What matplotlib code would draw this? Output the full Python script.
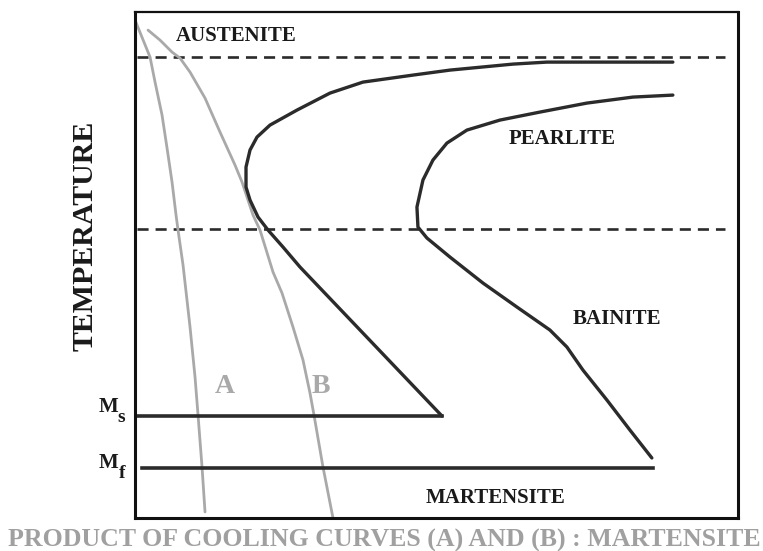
"""TTT diagram with two cooling curves (A and B) that both end in martensite."""

import matplotlib

matplotlib.use("Agg")
import matplotlib.pyplot as plt

# time / temperature in arbitrary diagram units
start_time = [538, 465, 412, 378, 315, 278, 228, 195, 162, 135, 122, 115, 111, 111,
              115, 123, 133, 148, 165, 307]
start_temp = [456, 456, 456, 454, 448, 443, 436, 425, 408, 393, 381, 368, 351, 331,
              318, 301, 288, 271, 251, 102]

finish_time = [538, 498, 452, 405, 365, 332, 312, 298, 288, 282, 283, 292, 315, 348,
               382, 415, 432, 448, 472, 495, 517]
finish_temp = [423, 421, 415, 406, 398, 388, 375, 358, 338, 311, 291, 280, 261, 235,
               211, 188, 171, 148, 118, 88, 60]

curve_a_time = [0, 15, 20, 27, 32, 37, 41, 43, 48, 55, 60, 63, 67, 70]
curve_a_temp = [498, 461, 436, 403, 370, 336, 303, 288, 253, 191, 141, 103, 51, 6]

curve_b_time = [13, 25, 37, 45, 55, 70, 85, 100, 107, 118, 125, 138, 147, 158, 168,
                175, 179, 188, 198]
curve_b_temp = [488, 478, 466, 460, 446, 420, 386, 353, 336, 303, 288, 246, 225, 191,
                158, 125, 103, 51, 0]

upper_limit = 461      # austenite / pearlite boundary (dashed)
nose_temp = 289        # pearlite / bainite boundary (dashed)
ms_temp, ms_end = 102, 307
mf_temp, mf_start, mf_end = 50, 7, 518

region_labels = ["AUSTENITE", "PEARLITE", "BAINITE", "MARTENSITE"]
region_pos = [(101, 482), (427, 379), (482, 199), (361, 20)]

DARK = "#2b2b2b"
GRAY = "#a9a9a9"
INK = "#1a1a1a"
SERIF = "Liberation Serif"

fig = plt.figure(figsize=(7.63, 5.51), dpi=100)
ax = fig.add_axes([0.177, 0.060, 0.790, 0.918])
ax.set_xlim(0, 603)
ax.set_ylim(0, 506)
ax.set_xticks([])
ax.set_yticks([])
for side, spine in ax.spines.items():
    spine.set_color("#111111")
    spine.set_linewidth(1.6 if side == "top" else 2.2)

for level in (upper_limit, nose_temp):
    ax.axhline(level, xmin=0.003, xmax=0.978, color=DARK, lw=1.9, dashes=(4.2, 2.65))

ax.plot(curve_a_time, curve_a_temp, color=GRAY, lw=2.0, solid_capstyle="round", solid_joinstyle="round")
ax.plot(curve_b_time, curve_b_temp, color=GRAY, lw=2.0, solid_capstyle="round", solid_joinstyle="round")

ax.plot(start_time, start_temp, color=DARK, lw=2.4, solid_capstyle="round", solid_joinstyle="round")
ax.plot(finish_time, finish_temp, color=DARK, lw=2.4, solid_capstyle="round", solid_joinstyle="round")
ax.plot([0, ms_end], [ms_temp, ms_temp], color=DARK, lw=2.6)
ax.plot([mf_start, mf_end], [mf_temp, mf_temp], color=DARK, lw=2.6)

for label, (x, y) in zip(region_labels, region_pos):
    ax.text(x, y, label, family=SERIF, weight="bold", fontsize=15, color=INK,
            ha="center", va="center")

ax.text(90, 131, "A", family=SERIF, weight="bold", fontsize=20, color=GRAY, ha="center", va="center")
ax.text(186, 131, "B", family=SERIF, weight="bold", fontsize=20, color=GRAY, ha="center", va="center")

# Ms / Mf labels left of the axis
label_opts = dict(family=SERIF, weight="bold", color=INK, clip_on=False)
ax.text(-17, ms_temp + 4, "M", fontsize=15, ha="right", va="baseline", **label_opts)
ax.text(-18, ms_temp - 6, "s", fontsize=14, ha="left", va="baseline", **label_opts)
ax.text(-17, mf_temp, "M", fontsize=15, ha="right", va="baseline", **label_opts)
ax.text(-16, mf_temp - 10, "f", fontsize=14, ha="left", va="baseline", **label_opts)

fig.text(85 / 763, 1 - 236 / 551, "TEMPERATURE", family=SERIF, weight="bold", fontsize=21.5,
         color=INK, rotation=90, ha="center", va="center")
fig.text(384 / 763, 1 - 540 / 551, "PRODUCT OF COOLING CURVES (A) AND (B) : MARTENSITE",
         family=SERIF, weight="bold", fontsize=18.6, color="#a0a0a0", ha="center", va="center")

fig.savefig("out.png", dpi=100)
